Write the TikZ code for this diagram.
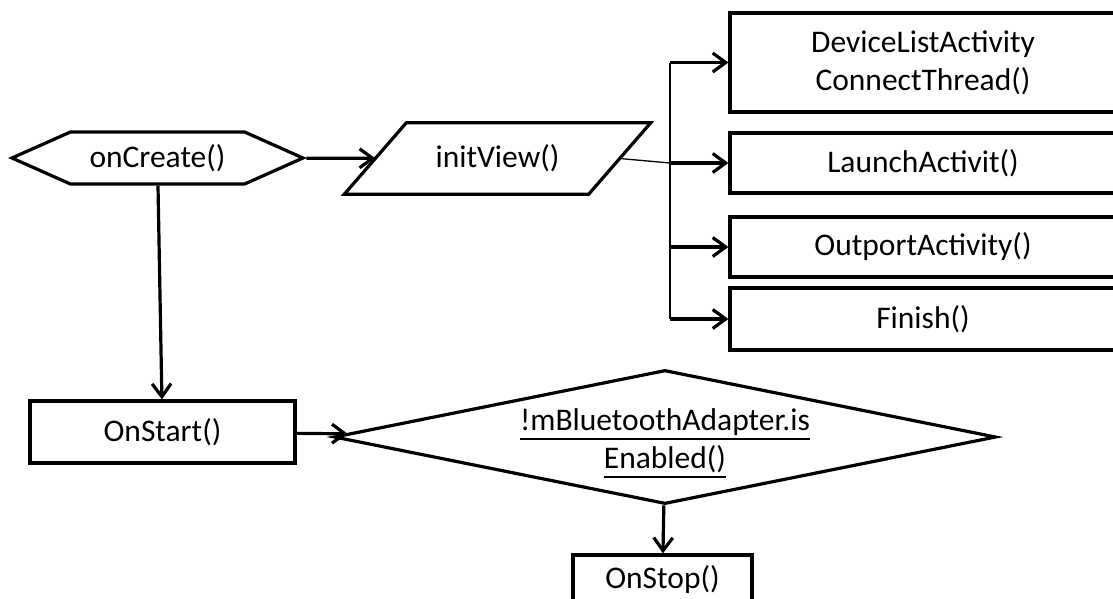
\documentclass[tikz,border=0pt]{standalone}
\usepackage{fontspec}
\setmainfont{Carlito}
\usetikzlibrary{arrows.meta,positioning,shapes.geometric,shapes.symbols}
\newcommand{\ulbox}[1]{\setbox0\hbox{#1}\dp0=0pt\vtop{\copy0\kern8pt\hrule height 1.5pt}}

\begin{document}
\begin{tikzpicture}[x=1pt,y=-1pt,>={Straight Barb[length=13pt,width=19pt]},
	font=\fontsize{31.5}{38}\selectfont,
	block/.style={draw,line width=3.2pt,inner sep=0pt}]
	\useasboundingbox (0,0) rectangle (1113,598);

	\node[block,signal,signal to=east and west,signal pointer angle=48,minimum width=291pt,minimum height=52pt] (create) at (157.5,158) {onCreate()};
	\node[minimum width=244pt,minimum height=71pt,inner sep=0pt] (view) at (497.5,158.5) {initView()};
	\node[block,minimum width=386pt,minimum height=99pt,align=center] (device) at (923,62.5) {DeviceListActivity\\ConnectThread()};
	\node[block,minimum width=386pt,minimum height=60pt] (launch) at (923,163) {LaunchActivit()};
	\node[block,minimum width=386pt,minimum height=60pt] (outport) at (923,247) {OutportActivity()};
	\node[block,minimum width=386pt,minimum height=62pt] (finish) at (923,319) {Finish()};
	\node[block,minimum width=265pt,minimum height=62pt] (start) at (162.5,432) {OnStart()};
	\node[block,diamond,minimum width=662pt,minimum height=134pt,
		label={[align=center,yshift=-6pt]center:\ulbox{!mBluetoothAdapter.is}\\\ulbox{Enabled()}}] (check) at (665,437) {};
	\node[block,minimum width=179pt,minimum height=50pt] (stop) at (662.5,580) {OnStop()};
	\coordinate (fork) at (670,163);

	% parallelogram round initView()
	\draw[block] ([xshift=-31pt]view.south west) -- ([xshift=31pt]view.north west)
		-- ([xshift=31pt]view.north east) -- ([xshift=-31pt]view.south east) -- cycle;

	\tikzset{flow/.style={->,line width=3.2pt}, bus/.style={-,line width=1.3pt}}
	\path (create) edge [flow] (view)
		  (create) edge [flow] (start)
		  (start)  edge [flow] (check)
		  (check)  edge [flow] (stop);
	\draw[bus] (view.east) -- (fork);
	\draw[bus] (device.west -| fork) -- (finish.west -| fork);
	\foreach \n in {device,launch,outport,finish}
		\draw[flow] (\n.west -| fork) -- (\n.west);
\end{tikzpicture}
\end{document}
